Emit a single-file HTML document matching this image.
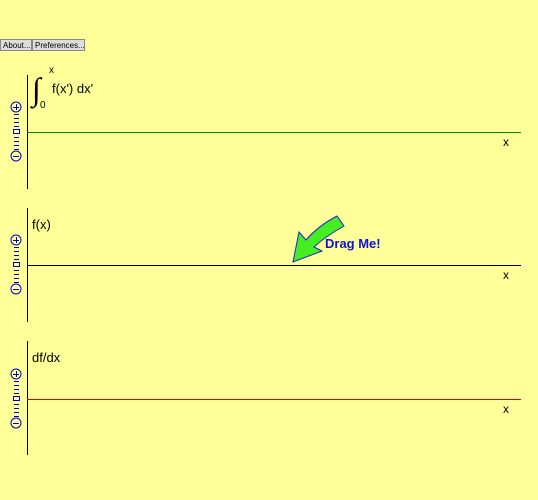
<!DOCTYPE html>
<html><head><meta charset="utf-8"><style>
body{margin:0;width:538px;height:500px;background:#ffff99;overflow:hidden;font-family:"Liberation Sans",sans-serif;}
.btn{position:absolute;top:39px;height:12px;font-size:8px;line-height:12px;background:#ddd;border:1px solid #888;padding:0 2px;box-sizing:border-box;}
</style></head><body>
<div class="btn" style="left:0;width:32px;">About...</div>
<div class="btn" style="left:32px;width:53px;">Preferences...</div>
<svg id="s" width="538" height="500" style="position:absolute;left:0;top:0"></svg>
<script>
const xs=[0,1];
const integralVals=[0,0];
const fVals=[0,0];
const dfVals=[0,0];
const panels=[
 {top:75,zero:132,vals:integralVals,color:"#008800",name:"integral"},
 {top:208,zero:265,vals:fVals,color:"#000000",name:"function"},
 {top:341,zero:399,vals:dfVals,color:"#dd0000",name:"derivative"}];
const s=document.getElementById('s');const NS="http://www.w3.org/2000/svg";
function mk(t,a,p){const e=document.createElementNS(NS,t);for(const k in a)e.setAttribute(k,a[k]);(p||s).appendChild(e);return e;}
const xScale=v=>27+v*494;
panels.forEach(p=>{
 const g=mk('g',{});
 
 
 const yScale=v=>p.zero-v*50;
 mk('rect',{x:27,y:p.top,width:1,height:114,fill:'#000'},g);
 const pts=xs.map((x,i)=>xScale(x)+','+(yScale(p.vals[i])+0.5)).join(' ');
 const l=mk('polyline',{points:pts,fill:'none',stroke:p.color,'stroke-width':1},g);
 
 
 const t=mk('text',{x:503,y:p.zero+14,'font-size':12},g);t.textContent='x';
 
 
 const zc=p.zero;
 const z=mk('g',{stroke:'#0000cc',fill:'none'},g);
 
 
 mk('circle',{cx:16,cy:zc-25,r:5},z);mk('line',{x1:13,y1:zc-24.5,x2:19,y2:zc-24.5},z);mk('line',{x1:16.5,y1:zc-28,x2:16.5,y2:zc-22},z);
 [-18,-14,-10,-6,5,9,13,17].forEach(d=>mk('line',{x1:14,y1:zc+d+0.5,x2:19,y2:zc+d+0.5},z));
 mk('rect',{x:13.5,y:zc-2.5,width:6,height:4},z);
 mk('circle',{cx:16,cy:zc+24,r:5},z);mk('line',{x1:13,y1:zc+24.5,x2:19,y2:zc+24.5},z);
});
let t;
t=mk('text',{x:32,y:100,'font-size':32,'font-family':'Liberation Serif'});t.textContent='∫';
t=mk('text',{x:49,y:73,'font-size':10});t.textContent='x';
t=mk('text',{x:40,y:108,'font-size':10});t.textContent='0';
t=mk('text',{x:52,y:93,'font-size':13});t.textContent="f(x') dx'";

t=mk('text',{x:32,y:229,'font-size':13});t.textContent='f(x)';

t=mk('text',{x:32,y:362,'font-size':13});t.textContent='df/dx';

const a=mk('path',{d:'M293,262 L299,232 L306,240 Q318,226 337,216 L344,226 Q326,236 314,247 L322,251 Z',fill:'#44ee22',stroke:'#2222cc','stroke-width':1});

t=mk('text',{x:325,y:248,'font-size':13,'font-weight':'bold',fill:'#1111dd'});t.textContent='Drag Me!';

</script>
</body></html>
